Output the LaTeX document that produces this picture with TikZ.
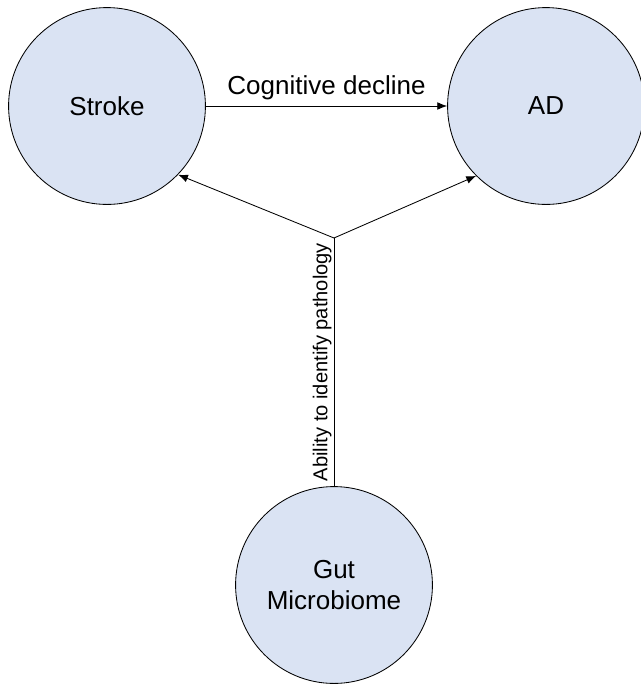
\documentclass[tikz,border=0pt]{standalone}
\usepackage{fontspec}
\setmainfont{Liberation Sans}
\usetikzlibrary{arrows.meta}
\definecolor{bubblefill}{HTML}{DAE3F3}

\begin{document}
\begin{tikzpicture}[x=0.025cm,y=-0.025cm,
  bubble/.style={circle,draw,fill=bubblefill,line width=0.6pt,minimum size=4.92cm,
    inner sep=0pt,align=center,font=\fontsize{18.5}{21.5}\selectfont},
  link/.style={line width=0.6pt,-{Latex[length=7pt,width=5.5pt]}}]
  \useasboundingbox (0,0) rectangle (640,685);
  \node[bubble] (stroke) at (107,106) {Stroke};
  \node[bubble] (ad) at (546,106) {AD};
  \node[bubble] (gut) at (334,585) {Gut\\Microbiome};
  \coordinate (split) at (334,238);
  \draw[link] (stroke) -- (ad)
    node[midway,above,inner sep=4pt,font=\fontsize{18.5}{21.5}\selectfont] {Cognitive decline};
  \draw[link] (split) -- (stroke.-44);
  \draw[link] (split) -- (ad.-135);
  \draw[line width=0.6pt] (gut) -- (split)
    node[midway,sloped,above,inner sep=1.5pt,font=\fontsize{14.3}{17}\selectfont] {Ability to identify pathology};
\end{tikzpicture}
\end{document}
